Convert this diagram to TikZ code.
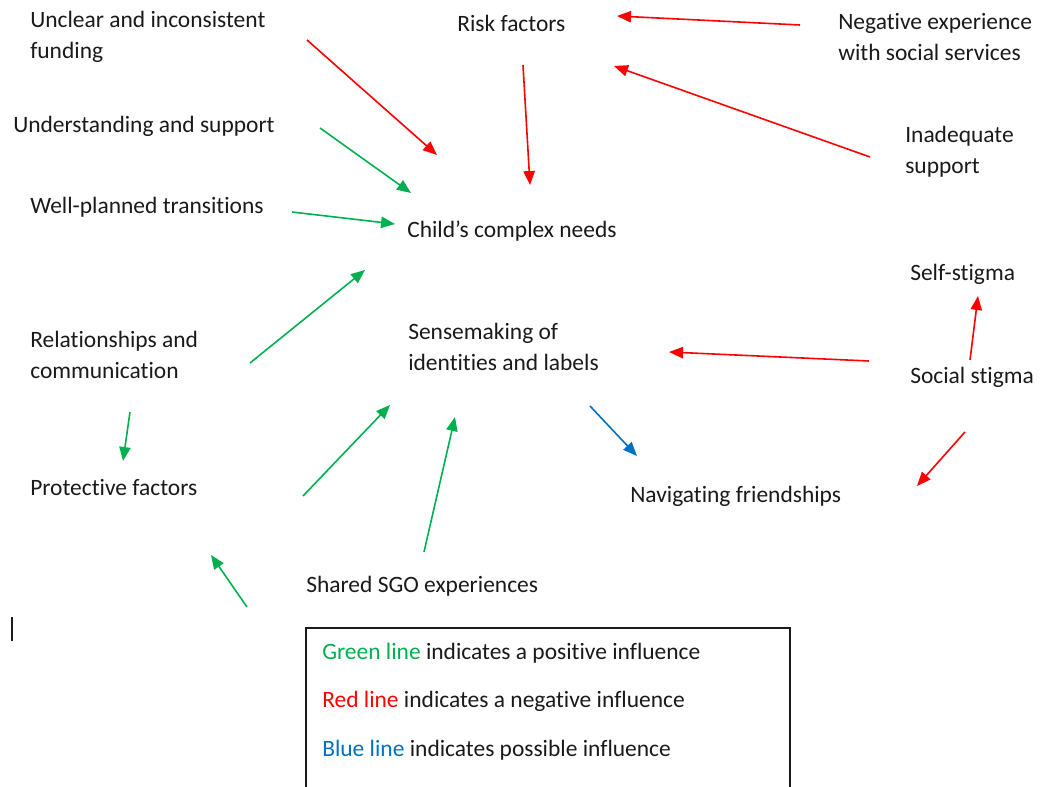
\documentclass[tikz,border=0pt]{standalone}
\usepackage{fontspec}
\setmainfont{Carlito}[Ligatures=NoCommon]
\usetikzlibrary{arrows.meta}
\definecolor{posgreen}{HTML}{00B050}
\definecolor{negred}{HTML}{FF0000}
\definecolor{maybeblue}{HTML}{0070C0}
\definecolor{inktext}{HTML}{1A1A1A}
\begin{document}
\begin{tikzpicture}[x=0.75pt,y=-0.75pt,
  factor/.style={anchor=west, inner sep=0pt, align=left, yshift=-1.2pt,
    font=\fontsize{17.6pt}{23.25pt}\selectfont, text=inktext},
  link/.style={line width=1.2pt, -{Triangle[length=10.5pt,width=8.5pt]}},
  goodlink/.style={link, draw=posgreen, fill=posgreen},
  badlink/.style={link, draw=negred, fill=negred},
  maybelink/.style={link, draw=maybeblue, fill=maybeblue}]
\useasboundingbox (0,0) rectangle (1043,787);

% factors
\node[factor] (funding) at (30,35.5) {Unclear and inconsistent\\funding};
\node[factor] (risk) at (457,22) {Risk factors};
\node[factor] (negexp) at (838,35.5) {Negative experience\\with social services};
\node[factor] (understanding) at (13,125) {Understanding and support};
\node[factor] (inadequate) at (905,150.5) {Inadequate\\support};
\node[factor] (transitions) at (30,206) {Well-planned transitions};
\node[factor] (needs) at (407,230) {Child’s complex needs};
\node[factor] (selfstigma) at (910,273) {Self-stigma};
\node[factor] (relationships) at (30,353.5) {Relationships and\\communication};
\node[factor] (sensemaking) at (408,345.5) {Sensemaking of\\identities and labels};
\node[factor] (socialstigma) at (910,376) {Social stigma};
\node[factor] (protective) at (30,486) {Protective factors};
\node[factor] (friendships) at (630,495) {Navigating friendships};
\node[factor] (sgo) at (306,585) {Shared SGO experiences};

% arrow end points
\coordinate (funding-out) at (307,40);   \coordinate (needs-in1) at (437,155);
\coordinate (risk-out) at (523,65);      \coordinate (needs-in2) at (530,185);
\coordinate (negexp-out) at (800,25);    \coordinate (risk-in1) at (617,16);
\coordinate (inadequate-out) at (870,157); \coordinate (risk-in2) at (614,66);
\coordinate (understanding-out) at (320,128); \coordinate (needs-in3) at (411,193);
\coordinate (transitions-out) at (292,212);   \coordinate (needs-in4) at (395,224);
\coordinate (relationships-out1) at (250,363); \coordinate (needs-in5) at (365,270);
\coordinate (relationships-out2) at (130,412); \coordinate (protective-in1) at (123,461);
\coordinate (protective-out) at (303,496);  \coordinate (sensemaking-in1) at (390,405);
\coordinate (sgo-out) at (424,552);         \coordinate (sensemaking-in2) at (455,417);
\coordinate (loose-end) at (247,607);       \coordinate (protective-in2) at (211,555);
\coordinate (socialstigma-out1) at (869,361); \coordinate (sensemaking-in3) at (669,352);
\coordinate (socialstigma-out2) at (970,360); \coordinate (selfstigma-in) at (978,296);
\coordinate (socialstigma-out3) at (965,432); \coordinate (friendships-in1) at (917,486);
\coordinate (sensemaking-out) at (590,406); \coordinate (friendships-in2) at (637,456);

% influences
\draw[badlink] (funding-out) -- (needs-in1);
\draw[badlink] (risk-out) -- (needs-in2);
\draw[badlink] (negexp-out) -- (risk-in1);
\draw[badlink] (inadequate-out) -- (risk-in2);
\draw[goodlink] (understanding-out) -- (needs-in3);
\draw[goodlink] (transitions-out) -- (needs-in4);
\draw[goodlink] (relationships-out1) -- (needs-in5);
\draw[goodlink] (relationships-out2) -- (protective-in1);
\draw[goodlink] (protective-out) -- (sensemaking-in1);
\draw[goodlink] (sgo-out) -- (sensemaking-in2);
\draw[goodlink] (loose-end) -- (protective-in2);
\draw[badlink] (socialstigma-out1) -- (sensemaking-in3);
\draw[badlink] (socialstigma-out2) -- (selfstigma-in);
\draw[badlink] (socialstigma-out3) -- (friendships-in1);
\draw[maybelink] (sensemaking-out) -- (friendships-in2);

% key
\draw[line width=1pt, draw=inktext] (306,790) -- (306,628) -- (790,628) -- (790,790);
\node[factor] (key-green) at (322,652) {\textcolor{posgreen}{Green line} indicates a positive influence};
\node[factor] (key-red) at (322,700) {\textcolor{negred}{Red line} indicates a negative influence};
\node[factor] (key-blue) at (322,749) {\textcolor{maybeblue}{Blue line} indicates possible influence};

% text cursor
\draw[line width=0.9pt, draw=inktext] (12,617) -- (12,641);
\end{tikzpicture}
\end{document}
